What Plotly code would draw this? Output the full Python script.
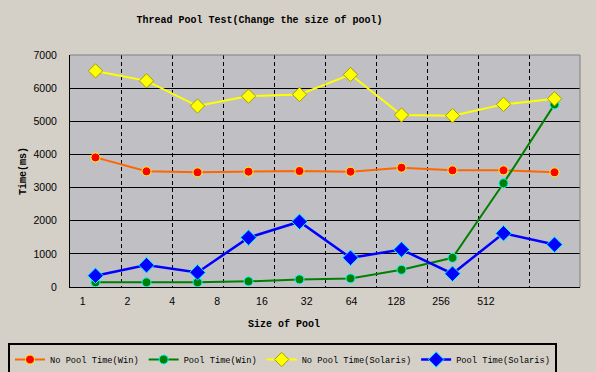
import plotly.graph_objects as go

sizes = ["1", "2", "4", "8", "16", "32", "64", "128", "256", "512"]
no_pool_win = [3910, 3490, 3460, 3480, 3500, 3480, 3600, 3520, 3520, 3460]
pool_win = [140, 140, 140, 170, 230, 260, 520, 880, 3130, 5510]
no_pool_solaris = [6520, 6220, 5460, 5760, 5810, 6410, 5190, 5170, 5510, 5680]
pool_solaris = [340, 660, 440, 1490, 1970, 880, 1130, 400, 1620, 1280]

W, H = 596, 372
L, R, T, B = 70, 16, 55, 85
PW, PH = W - L - R, H - T - B
PAPER = "#D4D0C8"
mono = "Liberation Mono"
sans = "Liberation Sans"

fig = go.Figure()
fig.add_trace(go.Scatter(x=sizes, y=no_pool_win, name="No Pool Time(Win)", mode="lines+markers",
                         line=dict(color="#FF6600", width=2),
                         marker=dict(symbol="circle", size=9, color="#FF0000", line=dict(color="#FFFF00", width=1))))
fig.add_trace(go.Scatter(x=sizes, y=pool_win, name="Pool Time(Win)", mode="lines+markers",
                         line=dict(color="#008000", width=2),
                         marker=dict(symbol="circle", size=9, color="#008000", line=dict(color="#00FFFF", width=1))))
fig.add_trace(go.Scatter(x=sizes, y=no_pool_solaris, name="No Pool Time(Solaris)", mode="lines+markers",
                         line=dict(color="#FFFF00", width=2),
                         marker=dict(symbol="diamond", size=11, color="#FFFF00", line=dict(color="#A0A000", width=1))))
fig.add_trace(go.Scatter(x=sizes, y=pool_solaris, name="Pool Time(Solaris)", mode="lines+markers",
                         line=dict(color="#0000FF", width=2.5),
                         marker=dict(symbol="diamond", size=12, color="#0000FF", line=dict(color="#00FFFF", width=1))))
# invisible trace that carries the (offset) tick-label axis
fig.add_trace(go.Scatter(x=sizes, y=no_pool_win, xaxis="x2", mode="markers",
                         marker=dict(opacity=0), showlegend=False, hoverinfo="skip"))

fig.update_layout(
    width=W, height=H,
    margin=dict(l=L, r=R, t=T, b=B, autoexpand=False),
    paper_bgcolor=PAPER,
    plot_bgcolor="#C0BFC4",
    showlegend=True,
    title=dict(text="<b>Thread Pool Test(Change the size of pool)</b>", x=259.5 / W, xanchor="center",
               y=1 - 19 / H, yanchor="middle", font=dict(family=mono, size=10, color="black")),
    xaxis=dict(type="category", range=[-0.5, 9.5], tickson="boundaries", showgrid=True,
               griddash="4px,3px", gridcolor="black", gridwidth=1, showticklabels=False,
               showline=True, linecolor="black", linewidth=1, ticks=""),
    xaxis2=dict(type="category", overlaying="x", anchor="y", side="bottom",
                range=[-0.283, 11.10], showgrid=False, showline=False, ticks="",
                tickfont=dict(family=sans, size=10.5, color="black"), ticklabelstandoff=6),
    yaxis=dict(range=[0, 7000], dtick=1000, showgrid=True, gridcolor="black", gridwidth=1,
               zeroline=False, showline=True, linecolor="black", linewidth=1, ticks="",
               tickfont=dict(family=sans, size=10.5, color="black"), ticklabelstandoff=10),
    legend=dict(orientation="h", xref="paper", yref="paper", x=(8 - L) / PW, y=(H - B - 343) / PH,
                xanchor="left", yanchor="top", bgcolor=PAPER, bordercolor="black", borderwidth=2,
                font=dict(family=mono, size=8.7, color="black"), itemwidth=30, tracegroupgap=0),
    shapes=[
        dict(type="line", xref="paper", yref="paper", x0=0, x1=1, y0=1, y1=1, line=dict(color="#808080", width=1)),
        dict(type="line", xref="paper", yref="paper", x0=1, x1=1, y0=0, y1=1, line=dict(color="#808080", width=1)),
    ],
    annotations=[
        dict(text="<b>Time(ms)</b>", xref="paper", yref="paper", x=(23 - L) / PW, y=0.5,
             xanchor="center", yanchor="middle", textangle=-90, showarrow=False,
             font=dict(family=mono, size=10, color="black")),
        dict(text="<b>Size of Pool</b>", xref="paper", yref="paper", x=(283.6 - L) / PW,
             y=(H - B - 324) / PH, xanchor="center", yanchor="middle", showarrow=False,
             font=dict(family=mono, size=10, color="black")),
    ],
)

fig.write_html("out.html", config={"displayModeBar": False},
               post_script="document.body.style.margin='0';document.body.style.overflow='hidden';")
